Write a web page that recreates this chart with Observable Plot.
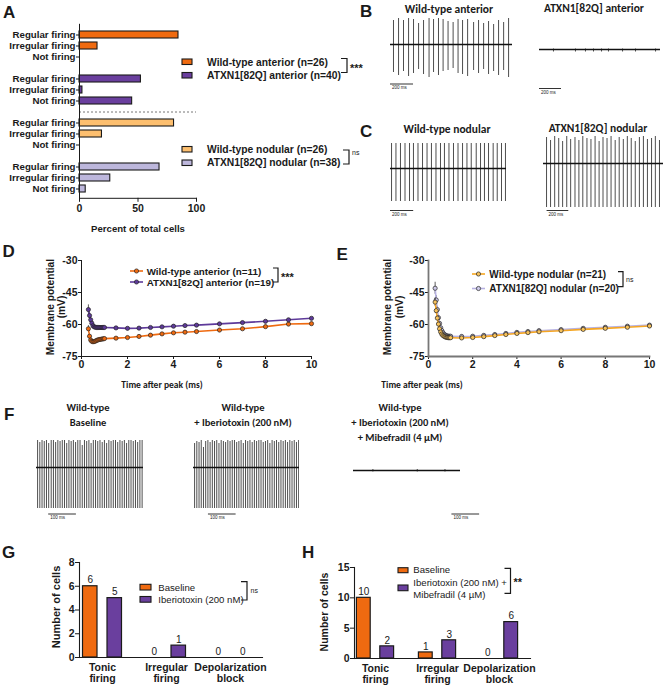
<!DOCTYPE html>
<html><head><meta charset="utf-8">
<script src="https://cdn.jsdelivr.net/npm/d3@7"></script>
<script src="https://cdn.jsdelivr.net/npm/@observablehq/plot@0.6"></script>
<style>
body{margin:0;background:#fff;}
#root{position:relative;width:666px;height:687px;overflow:hidden;background:#fff;}
#root > svg, #root > div{position:absolute;}
</style></head>
<body><div id="root"></div>
<script>
const ARIAL = '"Liberation Sans", Arial, sans-serif';
const CALIBRI = 'Carlito, Lato, "Liberation Sans", sans-serif';
const INK = "#1a1a1a";

// ---------- Panel A ----------
const firingStates = ["Regular firing","Irregular firing","Not firing"];
const groupsA = ["Wild-type anterior (n=26)","ATXN1[82Q] anterior (n=40)","Wild-type nodular (n=26)","ATXN1[82Q] nodular (n=38)"];
const colorsA = ["#EF6A10","#6A3F9E","#FDBF6F","#BDB7DC"];
const pctWTant = [84.6, 15.4, 0];
const pctATXNant = [52.5, 2.5, 45.0];
const pctWTnod = [80.8, 19.2, 0];
const pctATXNnod = [68.4, 26.3, 5.3];

// ---------- Panels D/E ----------
const timesAHP = [0.3,0.35,0.4,0.45,0.5,0.55,0.6,0.65,0.7,0.75,0.8,0.85,0.9,0.95,1,1.5,2,2.5,3,3.5,4,4.5,5,6,7,8,9,10];
const wtAnterior = [-62.0,-65.5,-67.3,-67.9,-68.1,-68.0,-67.8,-67.5,-67.3,-67.1,-67.0,-66.9,-66.8,-66.7,-66.6,-66.4,-66.1,-65.6,-65.0,-64.4,-63.9,-63.6,-63.3,-62.6,-62.0,-61.0,-59.8,-59.6];
const wtAnteriorErr = [1.5,1.0,0.7,0.6,0.5,0.5,0.5,0.5,0.5,0.5,0.5,0.5,0.5,0.5,0.5,0.5,0.5,0.5,0.5,0.5,0.5,0.5,0.5,0.6,0.6,0.6,0.6,0.6];
const atxnAnterior = [-53.0,-55.8,-57.8,-59.4,-60.6,-61.1,-61.3,-61.4,-61.4,-61.4,-61.4,-61.4,-61.4,-61.4,-61.4,-61.6,-61.8,-61.7,-61.4,-61.1,-60.8,-60.5,-60.3,-59.7,-59.1,-58.5,-57.8,-57.1];
const atxnAnteriorErr = [2.2,1.5,1.0,0.7,0.5,0.4,0.4,0.4,0.4,0.4,0.4,0.4,0.4,0.4,0.4,0.4,0.4,0.4,0.4,0.4,0.4,0.4,0.4,0.4,0.4,0.4,0.4,0.4];
const wtNodular = [-49.5,-53.5,-57.0,-59.8,-62.0,-63.5,-64.5,-65.1,-65.5,-65.8,-66.0,-66.1,-66.2,-66.2,-66.2,-66.3,-66.1,-65.7,-65.2,-64.7,-64.2,-63.8,-63.4,-62.9,-62.3,-61.8,-61.3,-60.7];
const wtNodularErr = [2.0,1.5,1.2,1.0,0.8,0.6,0.6,0.6,0.6,0.6,0.6,0.6,0.6,0.6,0.6,0.6,0.6,0.6,0.6,0.6,0.6,0.6,0.6,0.6,0.6,0.6,0.6,0.6];
const atxnNodular = [-43.0,-48.5,-53.0,-56.8,-59.5,-61.5,-62.8,-63.8,-64.5,-64.9,-65.2,-65.4,-65.5,-65.5,-65.5,-65.6,-65.5,-65.1,-64.7,-64.2,-63.7,-63.3,-62.9,-62.4,-61.8,-61.3,-60.8,-60.3];
const atxnNodularErr = [2.8,2.0,1.5,1.2,1.0,0.8,0.7,0.7,0.7,0.7,0.7,0.7,0.7,0.7,0.7,0.7,0.7,0.7,0.7,0.7,0.7,0.7,0.7,0.7,0.7,0.7,0.7,0.7];

// ---------- Panels G/H ----------
const categoriesGH = ["Tonic\nfiring","Irregular\nfiring","Depolarization\nblock"];
const baselineG = [6, 0, 0];
const iberiotoxinG = [5, 1, 0];
const baselineH = [10, 1, 0];
const iberioMibefradilH = [2, 3, 6];

// ---------- Traces (spike times in ms, peak / trough in trace units) ----------
const bWtTimes = [26,70,113,157,200,244,287,335,374,417,457,500,544,587,626,670,722,765,809,852,896,939,983,1026];
const bWtPeaks = [24,26,24,26,25,21,24,26,25,26,25,23,22,25,24,25,22,24,21,23,20,24,22,26];
const bWtTroughs = [-28,-31,-27,-32,-29,-25,-30,-33,-28,-31,-27,-26,-24,-29,-30,-32,-26,-29,-25,-30,-27,-31,-26,-33];
const bAtxnTimes = [127,327,418,491,564,627,755,873,1055];
const cWtTimes = [9,47,86,125,164,198,237,276,315,353,392,431,465,504,543,582,621,659,696,739,776,810,845,885,920,957,991];
const cAtxnTimes = [28,65,103,140,176,214,250,290,326,362,400,437,475,512,548,585,622,660,697,735,772,808,845,883,920,957,995,1030,1068];
const cAtxnPeaks = [26,23,27,25,22,27,24,26,23,27,25,24,27,22,26,25,27,23,26,24,27,25,22,26,27,24,25,27,23];
const fBaseTimes = [4,12,20,28,36,44,53,61,69,77,85,93,101,109,117,125,133,141,149,157,165,173,181,189,197,205,213,221,229,237,245,253,261,269,277,285,293,301,309,317,325,333,341,349,357,365,373,381];
const fBasePeaks = [27,25,27,26,27,24,27,27,25,27,26,27,27,24,27,26,27,25,27,27,22,27,26,27,24,27,27,26,27,25,27,24,27,26,27,27,25,27,26,27,24,27,27,26,27,25,27,27];
const fIbtxTimes = [4,12,20,28,36,44,52,60,68,76,84,92,100,108,116,124,132,140,148,156,164,172,180,188,196,204,212,220,228,236,244,252,260,268,276,284,292,300,308,316,324,332,340,348,356,364,372,380];
const fIbtxPeaks = [24,26,25,27,20,26,27,25,27,26,27,24,27,26,25,27,26,27,27,25,26,27,24,27,26,27,25,27,26,27,27,25,26,27,24,27,26,27,25,27,26,27,25,27,26,27,25,27];
const fMibTimes = [70, 230, 330];

function P(node, left, top){ node.style.left = left+"px"; node.style.top = top+"px"; document.getElementById("root").appendChild(node); return node; }

// ===== Panel A =====
const pctA = [pctWTant, pctATXNant, pctWTnod, pctATXNnod];
const rowsA = [], domainA = [];
groupsA.forEach((g, gi) => {
  if (gi > 0) domainA.push("gap" + gi);
  firingStates.forEach((s, si) => { const key = g + "|" + s; domainA.push(key); rowsA.push({key, group: g, pct: pctA[gi][si]}); });
});
P(Plot.plot({
  width: 230, height: 240, marginLeft: 79, marginRight: 34, marginTop: 23.8, marginBottom: 42.2,
  style: {fontFamily: ARIAL, fontSize: "9.7px", fontWeight: "bold", color: INK, background: "transparent"},
  x: {domain: [0, 100]}, y: {domain: domainA, padding: 0.4},
  color: {domain: groupsA, range: colorsA},
  marks: [
    Plot.ruleY(["gap2"], {stroke: "#666", strokeDasharray: "2,2", strokeWidth: 0.9}),
    Plot.barX(rowsA.filter(d => d.pct > 0), {x: "pct", y: "key", fill: "group", stroke: INK, strokeWidth: 1.1}),
    Plot.axisY(rowsA.map(d => d.key), {tickSize: 3, tickPadding: 1, tickFormat: k => k.split("|")[1], label: null}),
    Plot.axisX([0, 50, 100], {tickSize: 4, tickPadding: 2, label: null, fontSize: "10.5px"}),
    Plot.frame({anchor: "left", stroke: INK}), Plot.frame({anchor: "bottom", stroke: INK})
  ]
}), 0, 0);

// ===== Panels D / E =====
function ahp(series, left, mLeft, mRight){
  const marks = [
    Plot.axisY([-30,-45,-60,-75], {tickSize: 3, tickPadding: 1, tickFormat: d => String(d), label: null}),
    Plot.axisX([0,2,4,6,8,10], {tickSize: 3, tickPadding: 1, label: null}),
    Plot.frame({anchor: "left", stroke: series.axis, strokeWidth: series.axisW}),
    Plot.frame({anchor: "bottom", stroke: series.axis, strokeWidth: series.axisW})
  ];
  for (const s of series.list){
    const data = timesAHP.map((t, i) => ({t, v: s.v[i], e: s.e[i]}));
    marks.push(Plot.ruleX(data, {x: "t", y1: d => d.v - d.e, y2: d => d.v + d.e, stroke: s.errColor, strokeWidth: 0.8}));
    marks.push(Plot.line(data, {x: "t", y: "v", stroke: s.line, strokeWidth: 1.6}));
    marks.push(Plot.dot(data, {x: "t", y: "v", r: 2.1, fill: s.fill, stroke: "#222", strokeWidth: 0.7}));
  }
  return P(Plot.plot({
    width: left === 0 ? 340 : 336, height: 140, marginLeft: mLeft, marginRight: mRight, marginTop: 20, marginBottom: 24,
    style: {fontFamily: ARIAL, fontSize: "10.5px", fontWeight: "bold", color: INK, background: "transparent"},
    x: {domain: [0, 10]}, y: {domain: [-75, -30]},
    marks
  }), left, 240);
}
ahp({axis: INK, axisW: 1, list: [
  {v: wtAnterior, e: wtAnteriorErr, line: "#EF6A10", fill: "#EF6A10", errColor: "#333"},
  {v: atxnAnterior, e: atxnAnteriorErr, line: "#5E3A9A", fill: "#5E3A9A", errColor: "#333"}
]}, 0, 81, 29);
ahp({axis: "#777", axisW: 1.8, list: [
  {v: atxnNodular, e: atxnNodularErr, line: "#B7B2E2", fill: "#CFCBEA", errColor: "#333"},
  {v: wtNodular, e: wtNodularErr, line: "#F5A623", fill: "#F8C25A", errColor: "#333"}
]}, 330, 98, 17);

// ===== Panels G / H =====
function counts(left, width, mL, mR, mT, mB, xRange, yMax, yTicks, vals, colors, bw, off){
  const rows = [];
  vals.forEach((arr, si) => arr.forEach((n, ci) => rows.push({cat: categoriesGH[ci], n, s: si})));
  const step = (xRange[1] - xRange[0]) / categoriesGH.length;
  const marks = [];
  [0, 1].forEach(si => {
    const c = step / 2 + (si === 0 ? -off : off);
    const il = c - bw / 2, ir = step - il - bw;
    marks.push(Plot.barY(rows.filter(d => d.s === si && d.n > 0), {x: "cat", y: "n", fill: colors[si], stroke: INK, strokeWidth: 1.2, insetLeft: il, insetRight: ir}));
    marks.push(Plot.text(rows.filter(d => d.s === si), {x: "cat", y: "n", text: d => String(d.n), dx: si === 0 ? -off : off, dy: -6, fontWeight: "normal", fontSize: 10, fill: INK}));
  });
  marks.push(Plot.axisY(yTicks, {tickSize: 4, tickPadding: 1, label: null}));
  marks.push(Plot.axisX({tickSize: 0, tickPadding: 5, label: null, lineHeight: 1.1}));
  marks.push(Plot.frame({anchor: "left", stroke: INK, strokeWidth: 1.1}));
  marks.push(Plot.frame({anchor: "bottom", stroke: INK, strokeWidth: 1.1}));
  return P(Plot.plot({
    width, height: 147, marginLeft: mL, marginRight: mR, marginTop: mT, marginBottom: mB,
    style: {fontFamily: ARIAL, fontSize: "10.5px", fontWeight: "bold", color: INK, background: "transparent"},
    x: {domain: categoriesGH, range: xRange, padding: 0}, y: {domain: [0, yMax]},
    marks
  }), left, 540);
}
counts(0, 300, 79, 38, 22, 30, [69.5, 263], 8, [0,2,4,6,8], [baselineG, iberiotoxinG], ["#EF6A10", "#6A3F9E"], 15, 12.25);
counts(330, 336, 24, 136, 27, 29, [13.3, 201.4], 15, [0,5,10,15], [baselineH, iberioMibefradilH], ["#EF6A10", "#6A3F9E"], 14.5, 11.7);

// ===== Traces =====
const scaleBars = [];
function trace(spikes, o){
  const chart = Plot.plot({
    width: o.w, height: o.h, margin: 0,
    x: {domain: [0, o.dur], axis: null}, y: {domain: o.yd, axis: null},
    style: {background: "transparent"},
    marks: [
      Plot.ruleX(spikes, {x: "t", y1: "lo", y2: "hi", stroke: "#3a3a3a", strokeWidth: 0.9}),
      Plot.ruleY([0], {stroke: "#111", strokeWidth: 1.6})
    ]
  });
  P(chart, o.left, o.top);
  if (o.bar){
    const xs = chart.scale("x");
    const x0 = o.left + xs.apply(o.bar.start), x1 = o.left + xs.apply(o.bar.start + o.bar.len);
    scaleBars.push({x0, x1, y: o.bar.y, label: o.bar.len + " ms"});
  }
}
trace(bWtTimes.map((t, i) => ({t, hi: bWtPeaks[i], lo: bWtTroughs[i]})), {left: 390, top: 14, w: 122, h: 66, dur: 1060, yd: [-36, 30], bar: {start: 0, len: 200, y: 84}});
trace(bAtxnTimes.map(t => ({t, hi: 0.5, lo: -2.5})), {left: 539, top: 14, w: 121, h: 66, dur: 1100, yd: [-31, 35], bar: {start: 0, len: 200, y: 88.5}});
trace(cWtTimes.map(t => ({t, hi: 25, lo: -33})), {left: 390, top: 138, w: 116, h: 72, dur: 1000, yd: [-42, 30], bar: {start: 0, len: 200, y: 210.5}});
trace(cAtxnTimes.map((t, i) => ({t, hi: cAtxnPeaks[i], lo: -44})), {left: 543, top: 133, w: 120, h: 80, dur: 1105, yd: [-50, 30], bar: {start: 33, len: 200, y: 210.5}});
trace(fBaseTimes.map((t, i) => ({t, hi: fBasePeaks[i], lo: -41})), {left: 36, top: 435, w: 107, h: 80, dur: 386, yd: [-48, 32], bar: {start: 44, len: 100, y: 514}});
trace(fIbtxTimes.map((t, i) => ({t, hi: fIbtxPeaks[i], lo: -41})), {left: 193, top: 435, w: 106, h: 80, dur: 383, yd: [-48, 32], bar: {start: 54, len: 100, y: 514}});
trace(fMibTimes.map(t => ({t, hi: 1, lo: -1.5})), {left: 353, top: 435, w: 107, h: 80, dur: 386, yd: [-45, 35], bar: {start: 355, len: 100, y: 514}});

// ===== Overlay: letters, titles, legends =====
const ov = d3.select("#root").append("svg").attr("width", 666).attr("height", 687).style("left", "0px").style("top", "0px");
function T(x, y, s, o = {}){
  const e = ov.append("text").attr("x", x).attr("y", y).text(s)
    .attr("font-size", o.size || 10).attr("font-weight", o.weight || "bold")
    .attr("font-family", o.family || ARIAL).attr("text-anchor", o.anchor || "start").attr("fill", INK);
  if (o.rotate) e.attr("transform", `rotate(-90,${x},${y})`);
  return e;
}
function L(x1, y1, x2, y2, w = 1, c = INK, dash){ const l = ov.append("line").attr("x1", x1).attr("y1", y1).attr("x2", x2).attr("y2", y2).attr("stroke", c).attr("stroke-width", w); if (dash) l.attr("stroke-dasharray", dash); return l; }
function bracket(x, y1, y2, w = 5){ ov.append("path").attr("d", `M${x - w},${y1}H${x}V${y2}H${x - w}`).attr("fill", "none").attr("stroke", INK).attr("stroke-width", 1.2); }
function swatch(x, y, w, h, fill){ ov.append("rect").attr("x", x).attr("y", y).attr("width", w).attr("height", h).attr("fill", fill).attr("stroke", INK).attr("stroke-width", 1.1); }

// letters
[["A", 3, 18.3], ["B", 360, 16.7], ["C", 360, 137], ["D", 2.5, 256.5], ["E", 336.5, 260], ["F", 4, 420], ["G", 2, 558.3], ["H", 302, 558.3]]
  .forEach(([s, x, y]) => T(x, y, s, {size: 17}));

// Panel A legend
swatch(182, 59, 10, 5.5, colorsA[0]); T(207, 65.5, groupsA[0], {size: 10.3});
swatch(182, 72.5, 10, 5.5, colorsA[1]); T(207, 78.5, groupsA[1], {size: 10.3});
bracket(347, 58.5, 72.5, 6); T(350, 71.5, "***", {size: 11});
swatch(182, 146.5, 10, 5.5, colorsA[2]); T(207, 152.5, groupsA[2], {size: 10.3});
swatch(182, 160, 10, 5.5, colorsA[3]); T(207, 166, groupsA[3], {size: 10.3});
bracket(349, 150, 164, 6); T(352, 155, "ns", {size: 7, weight: "normal"});
T(138, 231.5, "Percent of total cells", {size: 9.6, anchor: "middle"});

// trace titles
T(449, 13, "Wild-type anterior", {size: 11.5, family: CALIBRI, anchor: "middle"});
T(594, 12, "ATXN1[82Q] anterior", {size: 11.5, family: CALIBRI, anchor: "middle"});
T(447, 133, "Wild-type nodular", {size: 11.5, family: CALIBRI, anchor: "middle"});
T(598, 132, "ATXN1[82Q] nodular", {size: 11.5, family: CALIBRI, anchor: "middle"});

// D / E labels
T(53.5, 307, "Membrane potential", {size: 10.2, anchor: "middle", rotate: true});
T(64.5, 307, "(mV)", {size: 10.2, anchor: "middle", rotate: true});
T(391, 307, "Membrane potential", {size: 10.2, anchor: "middle", rotate: true});
T(402.5, 307, "(mV)", {size: 10.2, anchor: "middle", rotate: true});
T(162, 388, "Time after peak (ms)", {size: 9.5, family: CALIBRI, anchor: "middle"});
T(422, 388, "Time after peak (ms)", {size: 9.5, family: CALIBRI, anchor: "middle"});
function lineLegend(x, y, line, fill){ L(x, y, x + 13, y, 1.6, line); ov.append("circle").attr("cx", x + 6.5).attr("cy", y).attr("r", 2.1).attr("fill", fill).attr("stroke", "#222").attr("stroke-width", 0.7); }
lineLegend(130, 271, "#EF6A10", "#EF6A10"); T(146.7, 274.5, "Wild-type anterior (n=11)", {size: 9.8});
lineLegend(130, 282, "#5E3A9A", "#5E3A9A"); T(146.7, 285.5, "ATXN1[82Q] anterior (n=19)", {size: 9.8});
bracket(278, 268, 282, 5); T(281, 280.5, "***", {size: 11});
lineLegend(472, 274, "#F5A623", "#F8C25A"); T(489.3, 277.7, "Wild-type nodular (n=21)", {size: 10});
lineLegend(472, 288.5, "#B7B2E2", "#CFCBEA"); T(489.3, 292, "ATXN1[82Q] nodular (n=20)", {size: 10});
bracket(623, 271.7, 286.7, 5); T(626, 281.5, "ns", {size: 7, weight: "normal"});

// F titles
T(88, 411, "Wild-type", {size: 10.5, family: CALIBRI, anchor: "middle"});
T(88, 426, "Baseline", {size: 10.5, family: CALIBRI, anchor: "middle"});
T(243, 411, "Wild-type", {size: 10.5, family: CALIBRI, anchor: "middle"});
T(243, 426, "+ Iberiotoxin (200 nM)", {size: 10.5, family: CALIBRI, anchor: "middle"});
T(400, 411, "Wild-type", {size: 10.5, family: CALIBRI, anchor: "middle"});
T(400, 426, "+ Iberiotoxin (200 nM)", {size: 10.5, family: CALIBRI, anchor: "middle"});
T(400, 440.5, "+ Mibefradil (4 \u00b5M)", {size: 10.5, family: CALIBRI, anchor: "middle"});

// scale bars
scaleBars.forEach(b => { L(b.x0, b.y, b.x1, b.y, 1, "#333"); T(b.x0 + 2, b.y + 5, b.label, {size: 4.5, weight: "normal"}); });

// G / H legends and axis titles
T(59.5, 607, "Number of cells", {size: 11, anchor: "middle", rotate: true});
T(327.5, 612, "Number of cells", {size: 10.5, anchor: "middle", rotate: true});
swatch(140, 584.3, 11, 5.7, "#EF6A10"); T(158.3, 590.5, "Baseline", {size: 9.6, weight: "normal"});
swatch(140, 596.5, 11, 5.7, "#6A3F9E"); T(158.3, 603, "Iberiotoxin (200 nM)", {size: 9.6, weight: "normal"});
bracket(247, 581.7, 600, 6); T(250.5, 593, "ns", {size: 7, weight: "normal"});
swatch(398, 567.7, 10, 5, "#EF6A10"); T(413.3, 573.3, "Baseline", {size: 9.6, weight: "normal"});
swatch(398, 585, 10, 5.7, "#6A3F9E"); T(413.3, 586, "Iberiotoxin (200 nM) +", {size: 9.6, weight: "normal"}); T(413.3, 597.5, "Mibefradil (4 \u00b5M)", {size: 9.6, weight: "normal"});
bracket(510.5, 568.3, 593.3, 6); T(513.5, 585.5, "**", {size: 11});
</script></body></html>
